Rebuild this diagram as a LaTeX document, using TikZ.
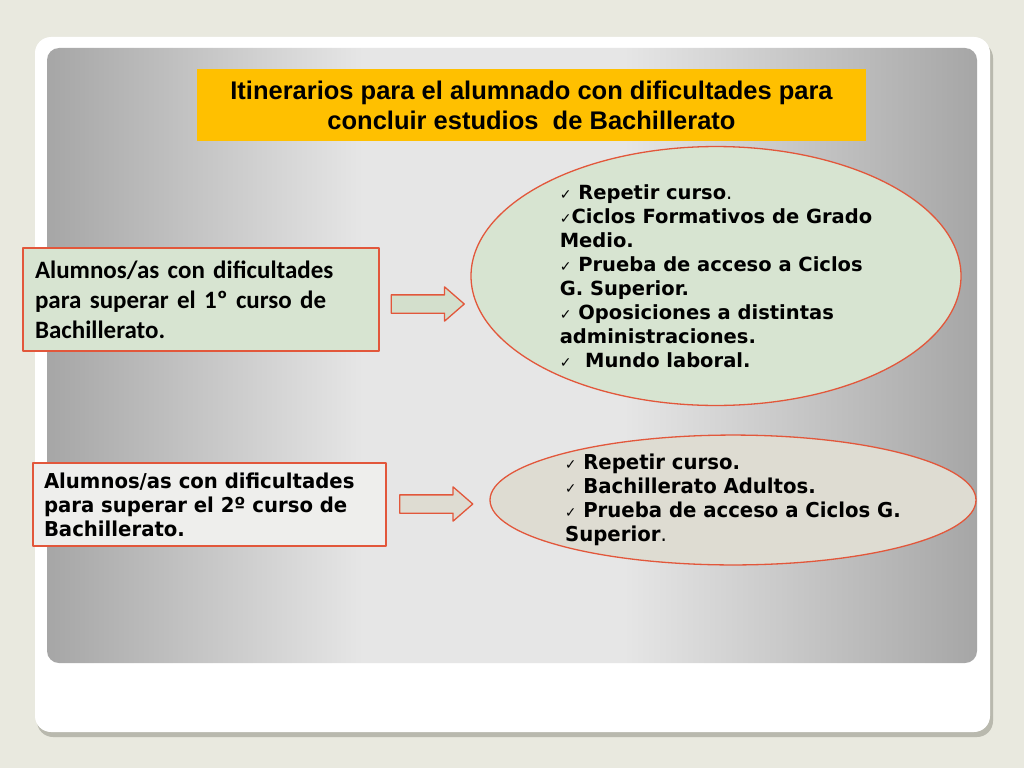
\documentclass[tikz,border=0pt]{standalone}
\usepackage{fontspec}
\usetikzlibrary{shapes.geometric,shapes.arrows}
\newfontfamily\titlefont{Liberation Sans}
\newfontfamily\listfont{DejaVu Sans}
\newfontfamily\narrowfont[FakeStretch=0.96]{DejaVu Sans}
\newfontfamily\boxfont{Carlito}
\definecolor{slidebg}{HTML}{E9E9DF}
\definecolor{cardshadow}{HTML}{B9B9AE}
\definecolor{panelgray}{HTML}{A6A6A6}
\definecolor{panellight}{HTML}{E6E6E6}
\definecolor{titleorange}{HTML}{FFC000}
\definecolor{edgered}{HTML}{E2573B}
\definecolor{greenfill}{HTML}{D7E4D1}
\definecolor{arrowgreen}{HTML}{D3DFCC}
\definecolor{grayfill}{HTML}{EEEEEC}
\definecolor{warmgray}{HTML}{DEDCD2}
\pgfdeclarehorizontalshading{panelband}{100bp}{color(0bp)=(panelgray); color(25bp)=(panelgray); color(42bp)=(panellight); color(56bp)=(panellight); color(75bp)=(panelgray); color(100bp)=(panelgray)}
\newcommand{\chk}{{\mdseries\fontsize{14}{14}\selectfont ✓}}

\begin{document}
\begin{tikzpicture}
	[x=1pt,y=-1pt,line cap=round,line join=round,
	 redline/.style={draw=edgered,line width=1.3pt},
	 firstbox/.style={redline,fill=greenfill,inner sep=0pt,align=left},
	 blockarrow/.style={single arrow,redline,minimum height=73pt,minimum width=33pt,
	   single arrow head extend=8pt,single arrow tip angle=82,inner xsep=0pt,inner ysep=8.5pt}]
	\useasboundingbox (0,0) rectangle (1024,768);
	% slide
	\fill[slidebg] (0,0) rectangle (1024,768);
	\fill[cardshadow,rounded corners=16pt] (37,42) rectangle (993,737);
	\fill[white,rounded corners=16pt] (35,37) rectangle (990,732);
	\shade[rounded corners=12pt,shading=panelband] (47,48) rectangle (977,663);
	% title
	\node[fill=titleorange,minimum width=669pt,minimum height=72pt,inner sep=0pt,align=center,
	  font=\titlefont\bfseries\fontsize{25.5}{30}\selectfont] (title) at (531.5,105)
	  {Itinerarios para el alumnado con dificultades para\\concluir estudios\ \ de Bachillerato};
	% first course
	\node[firstbox,minimum width=356pt,minimum height=103pt,text width=332pt,
	  font=\boxfont\bfseries\fontsize{25}{30}\selectfont] (curso1) at (201,299.5)
	  {Alumnos/as con dificultades\\para superar el 1º curso de\\Bachillerato.};
	\node[blockarrow,fill=arrowgreen] (flecha1) at (422.5,304) {};
	\node[ellipse,firstbox,minimum width=490pt,minimum height=217pt,
	  font=\listfont\bfseries\fontsize{19.5}{24}\selectfont] (salidas1) at (716,276)
	  {\chk\ Repetir curso{\mdseries.}\\
	   \chk Ciclos Formativos de Grado\\
	   Medio.\\
	   \chk\ Prueba de acceso a Ciclos\\
	   G. Superior.\\
	   \chk\ Oposiciones a distintas\\
	   administraciones.\\
	   \chk\ \ Mundo laboral.};
	% second course
	\node[redline,fill=grayfill,minimum width=353pt,minimum height=83pt,text width=331pt,
	  inner sep=0pt,align=left,font=\narrowfont\bfseries\fontsize{20.5}{24}\selectfont] (curso2) at (209.5,504.5)
	  {Alumnos/as con dificultades\\para superar el 2º curso de\\Bachillerato.};
	\node[blockarrow,fill=warmgray] (flecha2) at (431,504) {};
	\node[ellipse,redline,fill=warmgray,minimum width=486pt,minimum height=120pt,inner sep=0pt,
	  align=left,font=\narrowfont\bfseries\fontsize{20.5}{24}\selectfont] (salidas2) at (733,500)
	  {\chk\ Repetir curso.\\
	   \chk\ Bachillerato Adultos.\\
	   \chk\ Prueba de acceso a Ciclos G.\\
	   Superior{\mdseries.}};
\end{tikzpicture}
\end{document}
